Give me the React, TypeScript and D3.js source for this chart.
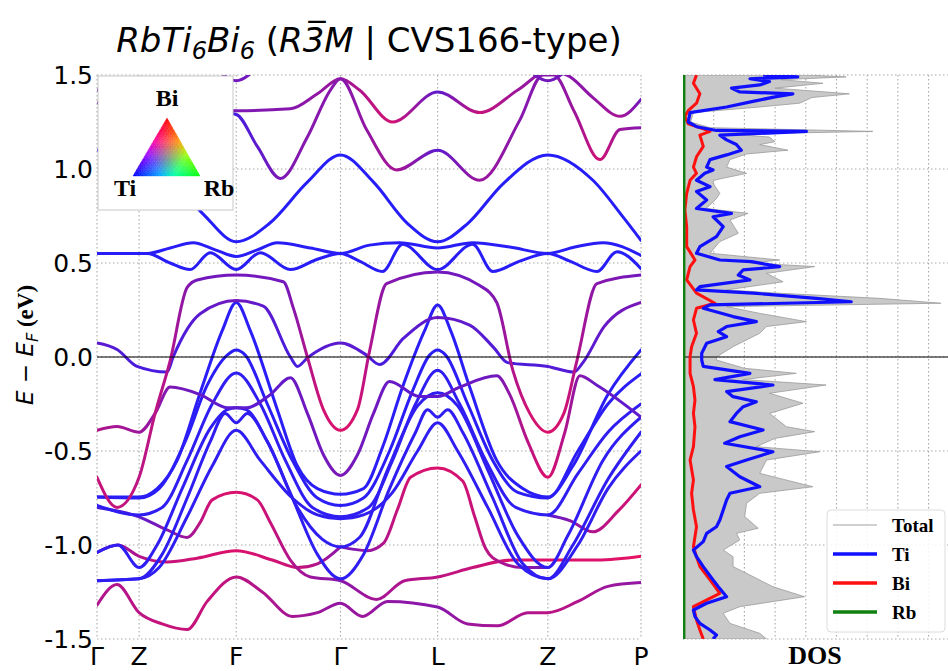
import * as d3 from "d3";

type P = number[];

// k-path (high-symmetry points) and energy ticks
const kTicks = [0, 0.42, 1.39, 2.43, 3.4, 4.5, 5.43];
const kLabels = ["Γ", "Z", "F", "Γ", "L", "Z", "P"];
const eTicks = [-1.5, -1.0, -0.5, 0.0, 0.5, 1.0, 1.5];
const eTickLabels = ["-1.5", "-1.0", "-0.5", "0.0", "0.5", "1.0", "1.5"];
const dosGrid = [1, 2, 3, 4, 5, 6, 7, 8];

// bands: [k, E (eV), Bi weight (optional, 0 = Ti, 1 = Bi)]
const bandA: P[] = [[0, 1.1], [0.21, 1.09], [0.42, 1.07], [0.73, 0.95], [1.06, 0.76], [1.39, 0.613], [1.72, 0.71], [2.1, 0.93], [2.43, 1.075], [2.76, 0.93], [3.1, 0.71], [3.4, 0.613], [3.7, 0.71], [4.05, 0.92], [4.5, 1.075], [4.95, 0.94], [5.25, 0.745], [5.43, 0.62]];
const bandB1: P[] = [[0, 0.551], [0.5, 0.551], [0.73, 0.58], [0.96, 0.608], [1.18, 0.57], [1.39, 0.535], [1.6, 0.57], [1.8, 0.608], [2.13, 0.58], [2.43, 0.551], [2.72, 0.595], [3.02, 0.608], [3.4, 0.58], [3.75, 0.608], [4.12, 0.585], [4.5, 0.551], [4.77, 0.585], [5.05, 0.608], [5.43, 0.54]];
const bandB2: P[] = [[0, 0.551], [0.5, 0.551], [0.73, 0.5], [0.93, 0.465], [1.13, 0.555], [1.39, 0.465], [1.63, 0.555], [1.93, 0.465], [2.2, 0.52], [2.43, 0.551], [2.62, 0.51], [2.85, 0.455], [3.05, 0.6], [3.4, 0.465], [3.75, 0.6], [3.95, 0.455], [4.22, 0.51], [4.5, 0.551], [4.72, 0.51], [4.99, 0.455], [5.19, 0.56], [5.43, 0.47]];
const bandP1: P[] = [[0, -0.64, 0.8], [0.2, -0.8, 0.8], [0.42, -0.64, 0.75], [0.58, -0.3, 0.75], [0.73, -0.02, 0.7], [0.9, 0.37, 0.5], [1.0, 0.41, 0.4], [1.39, 0.436, 0.4], [1.86, 0.4, 0.4], [1.96, 0.26, 0.5], [2.1, 0.0, 0.7], [2.26, -0.28, 0.85], [2.43, -0.39, 0.9], [2.6, -0.28, 0.85], [2.72, 0.03, 0.7], [2.89, 0.39, 0.5], [3.4, 0.452, 0.4], [3.82, 0.38, 0.4], [3.99, 0.29, 0.5], [4.15, -0.07, 0.7], [4.32, -0.3, 0.85], [4.5, -0.4, 0.9], [4.66, -0.3, 0.85], [4.79, -0.02, 0.7], [4.99, 0.39, 0.5], [5.43, 0.436, 0.4]];
const bandC1: P[] = [[0, 0.074, 0.3], [0.2, 0.04, 0.25], [0.4, -0.05, 0.2], [0.7, -0.08, 0.2], [0.76, 0.0, 0.2], [1.03, 0.23, 0.3], [1.39, 0.3, 0.4], [1.66, 0.27, 0.3], [1.93, 0.0, 0.2], [2.0, -0.05, 0.2], [2.1, -0.005, 0.25], [2.43, 0.074, 0.3], [2.69, 0.01, 0.25], [2.82, -0.04, 0.2], [3.06, 0.1, 0.25], [3.4, 0.21, 0.35], [3.72, 0.17, 0.3], [3.96, 0.05, 0.25], [4.1, -0.03, 0.2], [4.5, -0.05, 0.25], [4.76, -0.08, 0.25], [4.85, -0.03, 0.25], [5.06, 0.16, 0.35], [5.43, 0.29, 0.45]];
const bandW1: P[] = [[0, -0.745], [0.42, -0.745], [0.6, -0.7], [0.8, -0.55], [1.03, -0.19], [1.25, 0.14], [1.39, 0.29], [1.53, 0.14], [1.8, -0.28], [2.0, -0.58], [2.2, -0.7], [2.43, -0.73], [2.66, -0.7], [2.85, -0.48], [3.05, -0.16], [3.27, 0.14], [3.4, 0.277], [3.53, 0.14], [3.72, -0.16], [3.99, -0.55], [4.25, -0.7], [4.5, -0.745], [4.75, -0.58], [5.1, -0.2], [5.43, 0.037]];
const bandW2: P[] = [[0, -0.745], [0.42, -0.75], [0.62, -0.7], [0.88, -0.45], [1.1, -0.15], [1.3, 0.01], [1.39, 0.037], [1.48, 0.01], [1.7, -0.25], [1.95, -0.55], [2.2, -0.75], [2.43, -0.79], [2.66, -0.75], [2.92, -0.5], [3.15, -0.18], [3.32, 0.01], [3.4, 0.037], [3.48, 0.01], [3.7, -0.25], [3.95, -0.55], [4.2, -0.72], [4.5, -0.75], [4.8, -0.5], [5.1, -0.25], [5.43, -0.09]];
const bandW3: P[] = [[0, -0.79], [0.42, -0.84], [0.65, -0.8], [0.9, -0.55], [1.15, -0.25], [1.39, -0.085], [1.63, -0.25], [1.88, -0.55], [2.15, -0.8], [2.43, -0.85], [2.71, -0.8], [2.95, -0.55], [3.18, -0.25], [3.4, -0.07], [3.62, -0.25], [3.88, -0.55], [4.18, -0.8], [4.5, -0.84], [4.8, -0.62], [5.1, -0.4], [5.43, -0.25]];
const bandW4: P[] = [[0, -1.04], [0.21, -1.0], [0.42, -1.12], [0.6, -1.0], [0.85, -0.7], [1.13, -0.38], [1.3, -0.28], [1.39, -0.27], [1.49, -0.28], [1.7, -0.45], [2.0, -0.8], [2.25, -0.97], [2.43, -1.01], [2.62, -0.96], [2.9, -0.6], [3.2, -0.26], [3.4, -0.19], [3.6, -0.26], [3.9, -0.6], [4.2, -0.95], [4.5, -1.12], [4.7, -0.95], [5.05, -0.55], [5.43, -0.32]];
const bandW5: P[] = [[0, -1.19], [0.42, -1.18], [0.65, -1.05], [0.9, -0.75], [1.13, -0.45], [1.28, -0.3], [1.39, -0.35], [1.5, -0.3], [1.7, -0.45], [1.95, -0.75], [2.2, -1.05], [2.43, -1.18], [2.66, -1.05], [2.92, -0.7], [3.18, -0.4], [3.3, -0.28], [3.4, -0.32], [3.5, -0.28], [3.65, -0.4], [3.95, -0.75], [4.25, -1.1], [4.5, -1.18], [4.75, -1.0], [5.1, -0.65], [5.43, -0.4]];
const bandW6: P[] = [[0, -1.19], [0.42, -1.18], [0.62, -1.12], [0.9, -0.85], [1.15, -0.58], [1.39, -0.39], [1.63, -0.55], [1.95, -0.75], [2.2, -0.84], [2.43, -0.86], [2.66, -0.84], [2.95, -0.72], [3.2, -0.5], [3.4, -0.35], [3.6, -0.5], [3.9, -0.8], [4.2, -1.1], [4.5, -1.18], [4.8, -1.0], [5.1, -0.7], [5.43, -0.5]];
const bandQ1: P[] = [[0, -0.39, 0.7], [0.2, -0.37, 0.65], [0.42, -0.4, 0.6], [0.58, -0.3, 0.55], [0.73, -0.16, 0.45], [1.03, -0.2, 0.35], [1.3, -0.27, 0.3], [1.49, -0.27, 0.3], [1.73, -0.2, 0.3], [1.93, -0.11, 0.35], [2.1, -0.3, 0.4], [2.26, -0.52, 0.4], [2.43, -0.63, 0.45], [2.6, -0.52, 0.4], [2.76, -0.3, 0.4], [2.92, -0.13, 0.35], [3.22, -0.21, 0.3], [3.4, -0.21, 0.3], [3.62, -0.16, 0.35], [3.99, -0.1, 0.4], [4.12, -0.2, 0.55], [4.3, -0.45, 0.75], [4.5, -0.64, 0.9], [4.67, -0.4, 0.7], [4.82, -0.1, 0.5], [4.99, -0.15, 0.35], [5.43, -0.32, 0.3]];
const bandR1: P[] = [[0, -0.8, 0.2], [0.42, -0.85, 0.3], [0.7, -0.92, 0.5], [0.9, -0.96, 0.6], [1.03, -0.88, 0.75], [1.15, -0.76, 0.85], [1.39, -0.72, 0.9], [1.6, -0.76, 0.85], [1.73, -0.88, 0.8], [1.93, -1.08, 0.7], [2.13, -1.17, 0.6], [2.43, -1.19, 0.5], [2.79, -1.29, 0.65], [3.07, -1.19, 0.7], [3.4, -1.17, 0.75], [3.75, -1.12, 0.8], [4.15, -1.08, 0.9], [4.5, -1.08, 0.9], [5.0, -1.08, 0.9], [5.43, -1.06, 0.95]];
const bandR2: P[] = [[2.43, -1.01, 0.4], [2.7, -1.03, 0.55], [2.86, -0.99, 0.7], [3.0, -0.81, 0.8], [3.13, -0.64, 0.85], [3.4, -0.59, 0.9], [3.65, -0.66, 0.85], [3.77, -0.85, 0.8], [3.88, -1.02, 0.75], [4.02, -1.09, 0.7], [4.25, -1.12, 0.55], [4.5, -1.12, 0.4]];
const bandL1: P[] = [[0, -1.32, 0.7], [0.2, -1.21, 0.7], [0.42, -1.36, 0.75], [0.65, -1.42, 0.8], [0.9, -1.45, 0.8], [1.1, -1.3, 0.8], [1.39, -1.17, 0.75], [1.65, -1.25, 0.7], [1.95, -1.38, 0.65], [2.2, -1.36, 0.6], [2.43, -1.31, 0.55], [2.65, -1.38, 0.6], [2.9, -1.3, 0.55], [3.4, -1.33, 0.5], [3.7, -1.42, 0.6], [4.0, -1.43, 0.65], [4.3, -1.36, 0.7], [4.5, -1.36, 0.75], [4.8, -1.3, 0.7], [5.1, -1.22, 0.6], [5.43, -1.2, 0.55]];
const bandL2: P[] = [[0, -1.04, 0.55], [0.21, -1.0, 0.6], [0.42, -1.06, 0.7], [0.7, -1.09, 0.8], [1.0, -1.07, 0.85], [1.39, -1.03, 0.9], [1.75, -1.08, 0.85], [2.0, -1.12, 0.8], [2.2, -1.1, 0.7], [2.43, -1.01, 0.5]];
const bandM3: P[] = [[4.5, -0.84, 0.3], [4.72, -0.87, 0.5], [4.95, -0.93, 0.7], [5.2, -0.82, 0.8], [5.43, -0.68, 0.85]];
const bandT1: P[] = [[0, 1.35, 0.45], [0.42, 1.4, 0.45], [0.9, 1.34, 0.45], [1.39, 1.31, 0.45], [1.93, 1.32, 0.5], [2.2, 1.4, 0.55], [2.43, 1.48, 0.6], [2.62, 1.42, 0.7], [2.95, 1.25, 0.85], [3.4, 1.41, 0.3], [3.82, 1.3, 0.8], [4.2, 1.42, 0.6], [4.5, 1.52, 0.5], [4.69, 1.5, 0.5], [4.95, 1.38, 0.55], [5.22, 1.28, 0.65], [5.43, 1.37, 0.4]];
const bandT2: P[] = [[0, 1.42, 0.4], [0.42, 1.4, 0.4], [0.9, 1.33, 0.35], [1.39, 1.29, 0.2], [1.6, 1.12, 0.3], [1.83, 0.95, 0.45], [2.1, 1.17, 0.5], [2.33, 1.42, 0.5], [2.43, 1.48, 0.5], [2.69, 1.21, 0.55], [2.99, 0.995, 0.65], [3.4, 1.1, 0.3], [3.82, 0.94, 0.6], [4.22, 1.26, 0.5], [4.45, 1.5, 0.5], [4.56, 1.5, 0.5], [4.76, 1.31, 0.6], [5.02, 1.05, 0.85], [5.22, 1.21, 0.6], [5.43, 1.22, 0.5]];
const bandT3: P[] = [[1.15, 1.56], [1.39, 1.47], [1.63, 1.56]];
const bandT4: P[] = [[4.25, 1.56], [4.5, 1.47], [4.75, 1.56]];

const bands: { pts: P[]; w: number }[] = [
  { pts: bandT1, w: 0.5 }, { pts: bandT2, w: 0.5 }, { pts: bandT3, w: 0.4 }, { pts: bandT4, w: 0.4 },
  { pts: bandA, w: 0.04 }, { pts: bandB1, w: 0.05 }, { pts: bandB2, w: 0.05 },
  { pts: bandL1, w: 0.7 }, { pts: bandL2, w: 0.8 }, { pts: bandR1, w: 0.8 }, { pts: bandR2, w: 0.8 },
  { pts: bandM3, w: 0.7 }, { pts: bandW6, w: 0.08 }, { pts: bandW5, w: 0.08 }, { pts: bandW4, w: 0.08 },
  { pts: bandW3, w: 0.08 }, { pts: bandW2, w: 0.06 }, { pts: bandW1, w: 0.06 },
  { pts: bandQ1, w: 0.4 }, { pts: bandC1, w: 0.25 }, { pts: bandP1, w: 0.6 },
];

// DOS: [E (eV), states]
const dosTotal: P[] = [[1.5, 4.0], [1.49, 5.31], [1.475, 3.2], [1.456, 4.56], [1.43, 3.0], [1.4, 5.42], [1.38, 4.2], [1.35, 3.8], [1.33, 2.5], [1.3, 0.34], [1.25, 0.25], [1.22, 0.88], [1.2, 6.18], [1.185, 1.6], [1.17, 2.82], [1.145, 2.99], [1.13, 2.5], [1.1, 3.42], [1.08, 2.07], [1.05, 1.53], [1.01, 1.42], [0.977, 2.07], [0.94, 1.0], [0.924, 0.98], [0.87, 1.2], [0.835, 1.05], [0.79, 0.75], [0.764, 2.12], [0.729, 1.53], [0.658, 1.8], [0.614, 1.2], [0.552, 0.88], [0.516, 3.15], [0.5, 2.2], [0.481, 4.29], [0.445, 2.72], [0.4, 3.26], [0.357, 1.42], [0.34, 3.04], [0.312, 6.4], [0.286, 8.4], [0.268, 1.42], [0.232, 2.5], [0.188, 4.02], [0.162, 2.72], [0.126, 2.5], [0.055, 1.63], [0.0, 1.09], [-0.016, 1.09], [-0.06, 2.0], [-0.087, 3.69], [-0.12, 1.96], [-0.149, 4.66], [-0.193, 2.82], [-0.246, 3.91], [-0.3, 2.82], [-0.371, 3.37], [-0.397, 4.29], [-0.433, 2.99], [-0.477, 2.39], [-0.504, 4.45], [-0.548, 2.72], [-0.619, 2.5], [-0.69, 4.23], [-0.725, 2.5], [-0.778, 2.07], [-0.849, 2.01], [-0.911, 2.45], [-0.938, 1.74], [-0.973, 1.85], [-1.027, 1.31], [-1.062, 1.63], [-1.115, 1.63], [-1.168, 2.28], [-1.222, 2.93], [-1.275, 3.96], [-1.328, 1.85], [-1.363, 1.31], [-1.417, 1.53], [-1.47, 2.5], [-1.5, 2.72]];
const dosTi: P[] = [[1.5, 2.61], [1.49, 3.74], [1.48, 2.18], [1.465, 2.82], [1.447, 2.5], [1.43, 1.58], [1.41, 1.85], [1.4, 3.58], [1.385, 3.04], [1.36, 2.28], [1.33, 1.42], [1.3, 0.23], [1.25, 0.17], [1.225, 0.44], [1.205, 1.09], [1.2, 4.02], [1.18, 1.2], [1.155, 1.42], [1.13, 1.74], [1.1, 1.9], [1.075, 1.42], [1.05, 0.88], [1.01, 0.77], [0.995, 0.98], [0.977, 0.71], [0.94, 0.44], [0.906, 0.88], [0.88, 0.44], [0.835, 0.77], [0.79, 0.44], [0.764, 1.58], [0.746, 0.98], [0.693, 1.31], [0.64, 1.09], [0.587, 0.55], [0.552, 0.44], [0.516, 1.2], [0.507, 2.23], [0.481, 3.15], [0.463, 1.96], [0.436, 1.8], [0.41, 2.18], [0.374, 0.55], [0.357, 0.44], [0.34, 2.28], [0.312, 4.34], [0.294, 5.48], [0.277, 0.88], [0.259, 0.66], [0.215, 1.63], [0.188, 2.39], [0.162, 1.42], [0.135, 1.15], [0.108, 1.42], [0.073, 0.77], [0.02, 0.61], [-0.016, 0.61], [-0.05, 0.66], [-0.087, 2.18], [-0.12, 1.04], [-0.149, 2.93], [-0.184, 1.42], [-0.211, 1.63], [-0.238, 2.39], [-0.264, 1.96], [-0.3, 1.74], [-0.344, 1.53], [-0.388, 2.61], [-0.424, 1.85], [-0.459, 1.36], [-0.504, 2.93], [-0.548, 2.07], [-0.583, 1.42], [-0.637, 1.85], [-0.69, 2.5], [-0.725, 1.53], [-0.761, 1.42], [-0.814, 1.31], [-0.867, 1.2], [-0.903, 1.09], [-0.938, 0.77], [-0.982, 0.66], [-1.027, 0.34], [-1.062, 0.44], [-1.115, 0.66], [-1.186, 0.98], [-1.222, 1.15], [-1.275, 1.42], [-1.31, 0.77], [-1.346, 0.34], [-1.381, 0.39], [-1.417, 0.55], [-1.452, 0.88], [-1.479, 1.09], [-1.5, 0.98]];
const dosBi: P[] = [[1.5, 0.44], [1.456, 0.34], [1.4, 0.55], [1.35, 0.44], [1.31, 0.17], [1.28, 0.06], [1.24, 0.17], [1.22, 0.55], [1.2, 0.88], [1.18, 0.55], [1.12, 0.66], [1.065, 0.44], [1.01, 0.34], [0.977, 0.44], [0.94, 0.23], [0.87, 0.12], [0.782, 0.06], [0.693, 0.12], [0.587, 0.12], [0.516, 0.39], [0.481, 0.23], [0.41, 0.12], [0.34, 0.44], [0.286, 1.04], [0.259, 0.44], [0.197, 0.34], [0.126, 0.44], [0.055, 0.28], [0.002, 0.23], [-0.087, 0.23], [-0.158, 0.34], [-0.229, 0.39], [-0.3, 0.34], [-0.371, 0.39], [-0.477, 0.34], [-0.548, 0.23], [-0.654, 0.34], [-0.725, 0.28], [-0.814, 0.34], [-0.903, 0.44], [-1.009, 0.34], [-1.062, 0.44], [-1.115, 0.55], [-1.186, 0.88], [-1.257, 1.2], [-1.328, 0.34], [-1.399, 0.44], [-1.452, 0.55], [-1.5, 0.66]];
const dosRb: P[] = [[1.5, 0.03], [-1.5, 0.03]];

const legendItems = [
  { label: "Total", color: "#a0a0a0", width: 1 },
  { label: "Ti", color: "#1010ff", width: 3.5 },
  { label: "Bi", color: "#ff1010", width: 3.5 },
  { label: "Rb", color: "#108010", width: 3.5 },
];

const serif = "'Liberation Serif', 'Times New Roman', serif";
const sans = "'DejaVu Sans', sans-serif";

export default function App() {
  const bandL = 97, bandR = 641, top = 75, bottom = 639;
  const dosL = 683, dosR = 947;
  const x = d3.scaleLinear().domain([0, 5.43]).range([bandL, bandR]);
  const y = d3.scaleLinear().domain([-1.5, 1.5]).range([bottom, top]);
  const xd = d3.scaleLinear().domain([0, 8.6]).range([dosL, dosR]);
  const wColor = d3.interpolateRgb("#1e1eff", "#f0105a");

  const bandLine = d3.line<P>().x((d) => x(d[0])).y((d) => y(d[1])).curve(d3.curveMonotoneX);
  const dosLine = d3.line<P>().x((d) => xd(d[1])).y((d) => y(d[0]));
  const dosArea = d3.area<P>().y((d) => y(d[0])).x0(xd(0)).x1((d) => xd(d[1]));

  // ternary colour triangle for the legend
  const tTop = [167, 118], tBL = [133, 176], tBR = [200, 176];
  const N = 18;
  const pt = (i: number, j: number) => [
    tTop[0] + (i / N) * (tBL[0] - tTop[0]) + (j / N) * (tBR[0] - tBL[0]),
    tTop[1] + (i / N) * (tBL[1] - tTop[1]),
  ];
  const triCol = (bi: number, ti: number, rb: number) => {
    const f = (v: number) => Math.round(255 * Math.min(1, v * 1.7));
    return `rgb(${f(bi)},${f(rb)},${f(ti)})`;
  };
  const tris: { d: string; c: string }[] = [];
  for (let i = 0; i < N; i++) {
    for (let j = 0; j <= i; j++) {
      const a = pt(i, j), b = pt(i + 1, j), c = pt(i + 1, j + 1);
      const r = (i + 2 / 3) / N, t = (j + 1 / 3) / (i + 1);
      tris.push({ d: `M${a}L${b}L${c}Z`, c: triCol(1 - r, r * (1 - t), r * t) });
      if (j < i) {
        const e = pt(i, j + 1);
        const r2 = (i + 1 / 3) / N, t2 = (j + 2 / 3) / (i + 1);
        tris.push({ d: `M${a}L${c}L${e}Z`, c: triCol(1 - r2, r2 * (1 - t2), r2 * t2) });
      }
    }
  }

  const grid = { stroke: "#a8a8a8", strokeWidth: 1.1, strokeDasharray: "1.5,2.5" };

  return (
    <div style={{ position: "absolute", left: 0, top: 0 }}>
      <svg width={948} height={671} style={{ display: "block", background: "#fff" }}>
        <defs>
          <clipPath id="bandClip"><rect x={bandL} y={top} width={bandR - bandL} height={bottom - top} /></clipPath>
          <clipPath id="dosClip"><rect x={dosL} y={top} width={dosR - dosL + 2} height={bottom - top} /></clipPath>
          {bands.map((b, i) => (
            <linearGradient key={i} id={`bg${i}`} gradientUnits="userSpaceOnUse" x1={bandL} x2={bandR} y1={0} y2={0}>
              {b.pts.map((p, j) => (
                <stop key={j} offset={(x(p[0]) - bandL) / (bandR - bandL)} stopColor={wColor(p[2] ?? b.w)} />
              ))}
            </linearGradient>
          ))}
        </defs>

        {/* title */}
        <text x={369} y={52} textAnchor="middle" fontFamily={sans} fontSize={34}>
          <tspan fontStyle="italic" fontSize={34}>RbTi</tspan>
          <tspan fontStyle="italic" fontSize={24} dy={7}>6</tspan>
          <tspan fontStyle="italic" fontSize={34} dy={-7}>Bi</tspan>
          <tspan fontStyle="italic" fontSize={24} dy={7}>6</tspan>
          <tspan fontSize={34} dy={-7}>{" ("}</tspan>
          <tspan fontStyle="italic" fontSize={34}>R3{"\u0305"}M</tspan>
          <tspan fontSize={34}>{" | CVS166-type)"}</tspan>
        </text>

        {/* band panel grid */}
        {eTicks.map((t) => (
          <line key={`bh${t}`} x1={bandL} x2={bandR} y1={y(t)} y2={y(t)} {...grid} />
        ))}
        {kTicks.map((k, i) => (
          <line key={`bv${i}`} x1={x(k)} x2={x(k)} y1={top} y2={bottom} {...grid} />
        ))}

        {/* bands */}
        <g clipPath="url(#bandClip)" fill="none" strokeWidth={3} strokeLinecap="round">
          {bands.map((b, i) => (
            <path key={i} d={bandLine(b.pts) ?? ""} stroke={`url(#bg${i})`} />
          ))}
        </g>
        <line x1={bandL} x2={bandR} y1={y(0)} y2={y(0)} stroke="#000" strokeWidth={1.2} />

        {/* ternary legend */}
        <rect x={98} y={76} width={135} height={134} fill="#fff" stroke="#c8c8c8" strokeWidth={1} />
        {tris.map((t, i) => (
          <path key={i} d={t.d} fill={t.c} stroke={t.c} strokeWidth={0.4} />
        ))}
        <g fontFamily={serif} fontWeight="bold" fontSize={24}>
          <text x={167} y={106} fontSize={24} textAnchor="middle">Bi</text>
          <text x={125} y={196} fontSize={24} textAnchor="middle">Ti</text>
          <text x={219} y={196} fontSize={24} textAnchor="middle">Rb</text>
        </g>

        {/* band axis labels */}
        <g fontFamily={sans} fontSize={25} fill="#000">
          {eTicks.map((t, i) => (
            <text key={`yl${t}`} x={93} y={y(t)} dy="0.36em" fontSize={25} textAnchor="end">{eTickLabels[i]}</text>
          ))}
          {kTicks.map((k, i) => (
            <text key={`xl${i}`} x={x(k)} y={665} fontSize={25} textAnchor="middle">{kLabels[i]}</text>
          ))}
        </g>
        <text transform="translate(33,345) rotate(-90)" textAnchor="middle" fontSize={23}>
          <tspan fontFamily={sans} fontSize={23} fontStyle="italic">E</tspan>
          <tspan fontFamily={sans} fontSize={23}>{" − "}</tspan>
          <tspan fontFamily={sans} fontSize={23} fontStyle="italic">E</tspan>
          <tspan fontFamily={sans} fontStyle="italic" fontSize={16} dy={5}>F</tspan>
          <tspan fontFamily={serif} fontSize={23} fontWeight="bold" dy={-5}>{"  (eV)"}</tspan>
        </text>

        {/* DOS panel */}
        {eTicks.map((t) => (
          <line key={`dh${t}`} x1={dosL} x2={948} y1={y(t)} y2={y(t)} {...grid} />
        ))}
        {dosGrid.map((g) => (
          <line key={`dv${g}`} x1={xd(g)} x2={xd(g)} y1={top} y2={bottom} {...grid} />
        ))}
        <g clipPath="url(#dosClip)">
          <path d={dosArea(dosTotal) ?? ""} fill="#c9c9c9" stroke="#9a9a9a" strokeWidth={0.8} />
          <line x1={dosL} x2={948} y1={y(0)} y2={y(0)} stroke="#000" strokeWidth={1.2} />
          <path d={dosLine(dosBi) ?? ""} fill="none" stroke="#ff1010" strokeWidth={3} strokeLinejoin="round" />
          <path d={dosLine(dosTi) ?? ""} fill="none" stroke="#1010ff" strokeWidth={3.2} strokeLinejoin="round" />
          <path d={dosLine(dosRb) ?? ""} fill="none" stroke="#108010" strokeWidth={3} />
        </g>
        <text x={(dosL + dosR) / 2} y={664} textAnchor="middle" fontFamily={serif} fontWeight="bold" fontSize={26}>DOS</text>

        {/* DOS legend */}
        <rect x={827} y={510} width={118} height={122} rx={4} fill="#fff" fillOpacity={0.85} stroke="#dcdcdc" />
        {legendItems.map((it, i) => (
          <g key={it.label} transform={`translate(833,${525 + i * 29})`}>
            <line x1={0} x2={44} y1={0} y2={0} stroke={it.color} strokeWidth={it.width} />
            <text x={59} y={7} fontFamily={serif} fontWeight="bold" fontSize={19}>{it.label}</text>
          </g>
        ))}
      </svg>
    </div>
  );
}
